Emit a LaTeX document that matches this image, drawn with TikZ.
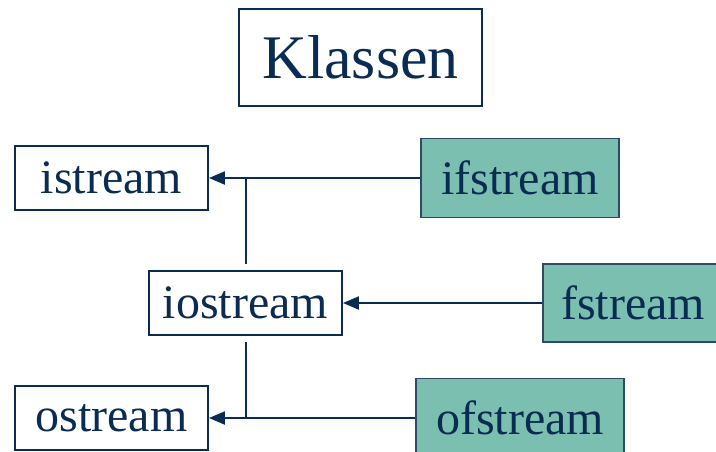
\documentclass[tikz,border=0pt]{standalone}
\usepackage{fontspec}
\setmainfont{Liberation Serif}
\usepackage{xcolor}
\usetikzlibrary{arrows.meta}
\definecolor{navy}{HTML}{0B2C52}
\definecolor{teal}{HTML}{7BBFB1}
\definecolor{tealedge}{HTML}{2E4B66}

\begin{document}
\begin{tikzpicture}[
  x=1pt,y=-1pt,
  box/.style={draw=navy,line width=1.8pt,inner sep=0pt,text=navy,
              minimum height=64pt,minimum width=193pt,font=\fontsize{48}{50}\selectfont},
  fbox/.style={box,draw=tealedge,fill=teal,minimum height=79pt},
  arr/.style={-{Triangle[length=16pt,width=13pt]},draw=navy,line width=2pt},
  lin/.style={draw=navy,line width=2pt}
]
\useasboundingbox (0,0) rectangle (716,451);
\node[box,minimum width=243pt,minimum height=97pt,font=\fontsize{62}{64}\selectfont]
  (title) at (360.5,57.5) {Klassen};
\node[box] (is) at (111.5,178) {istream};
\node[box] (ios) at (245.5,303) {iostream};
\node[box] (os) at (111.5,418) {ostream};
\node[fbox,minimum width=198pt] (ifs) at (520,178) {ifstream};
\node[fbox,minimum width=180pt,minimum height=78pt] (fs) at (633,303) {fstream};
\node[fbox,minimum width=208pt] (ofs) at (520,418) {ofstream};

\draw[arr] (ifs) -- (is);
\draw[arr] (ofs) -- (os);
\draw[arr] (fs) -- (ios);
\draw[lin,shorten <=6pt] (ios.north) -- (ios.north |- is.east);
\draw[lin,shorten <=6pt] (ios.south) -- (ios.south |- os.east);
\end{tikzpicture}
\end{document}
